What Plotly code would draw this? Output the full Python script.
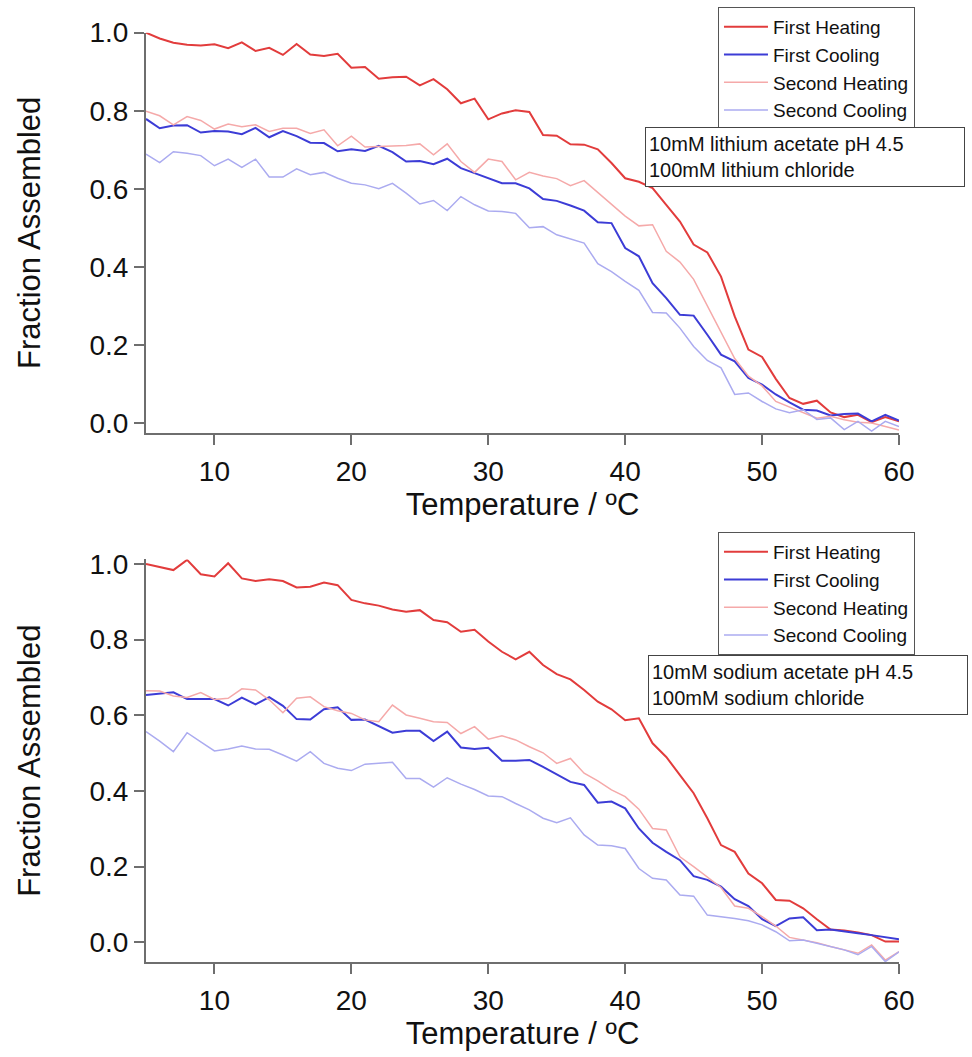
import plotly.graph_objects as go

# Temperature axis (ºC), one reading per degree
temperature = list(range(5, 61))

# 10 mM lithium acetate pH 4.5 / 100 mM lithium chloride
li_first_heating = [1.000, 0.985, 0.974, 0.969, 0.967, 0.970, 0.960, 0.975, 0.953, 0.961,
                    0.943, 0.971, 0.944, 0.940, 0.946, 0.910, 0.912, 0.882, 0.886, 0.887,
                    0.865, 0.881, 0.855, 0.819, 0.831, 0.778, 0.793, 0.801, 0.797, 0.738,
                    0.736, 0.714, 0.713, 0.701, 0.666, 0.627, 0.618, 0.602, 0.559, 0.516,
                    0.457, 0.437, 0.375, 0.273, 0.188, 0.169, 0.113, 0.064, 0.049, 0.057,
                    0.027, 0.015, 0.021, 0.002, 0.015, 0.004]
li_first_cooling = [0.779, 0.755, 0.762, 0.763, 0.744, 0.748, 0.747, 0.740, 0.756, 0.732,
                    0.748, 0.735, 0.718, 0.717, 0.696, 0.701, 0.697, 0.710, 0.694, 0.670,
                    0.671, 0.663, 0.677, 0.653, 0.640, 0.627, 0.614, 0.614, 0.601, 0.574,
                    0.569, 0.557, 0.544, 0.514, 0.512, 0.448, 0.427, 0.358, 0.320, 0.277,
                    0.275, 0.226, 0.175, 0.158, 0.115, 0.098, 0.073, 0.053, 0.034, 0.032,
                    0.019, 0.023, 0.024, 0.004, 0.021, 0.006]
li_second_heating = [0.799, 0.787, 0.764, 0.785, 0.775, 0.753, 0.766, 0.759, 0.764, 0.747,
                     0.755, 0.755, 0.742, 0.751, 0.710, 0.735, 0.707, 0.708, 0.709, 0.711,
                     0.715, 0.687, 0.715, 0.670, 0.642, 0.676, 0.670, 0.623, 0.642, 0.633,
                     0.626, 0.608, 0.621, 0.590, 0.560, 0.530, 0.505, 0.508, 0.440, 0.412,
                     0.368, 0.300, 0.230, 0.165, 0.120, 0.095, 0.055, 0.040, 0.026, 0.012,
                     0.017, 0.008, 0.002, 0.000, -0.009, -0.018]
li_second_cooling = [0.689, 0.667, 0.695, 0.691, 0.685, 0.659, 0.676, 0.655, 0.676, 0.630,
                     0.630, 0.651, 0.636, 0.642, 0.627, 0.614, 0.610, 0.600, 0.614, 0.589,
                     0.561, 0.570, 0.544, 0.580, 0.559, 0.543, 0.542, 0.537, 0.500, 0.503,
                     0.482, 0.471, 0.461, 0.408, 0.388, 0.363, 0.340, 0.283, 0.282, 0.243,
                     0.196, 0.160, 0.141, 0.073, 0.077, 0.055, 0.036, 0.026, 0.034, 0.009,
                     0.013, -0.017, 0.004, -0.021, 0.004, -0.009]

# 10 mM sodium acetate pH 4.5 / 100 mM sodium chloride
na_first_heating = [1.000, 0.991, 0.984, 1.011, 0.973, 0.967, 1.002, 0.962, 0.955, 0.960,
                    0.955, 0.938, 0.940, 0.951, 0.944, 0.905, 0.896, 0.890, 0.880, 0.874,
                    0.878, 0.852, 0.846, 0.821, 0.826, 0.795, 0.768, 0.748, 0.768, 0.733,
                    0.709, 0.695, 0.667, 0.636, 0.616, 0.587, 0.592, 0.526, 0.490, 0.442,
                    0.394, 0.328, 0.257, 0.239, 0.182, 0.156, 0.112, 0.110, 0.090, 0.061,
                    0.034, 0.031, 0.026, 0.019, 0.002, 0.002]
na_first_cooling = [0.654, 0.658, 0.661, 0.643, 0.643, 0.643, 0.626, 0.647, 0.629, 0.648,
                    0.625, 0.590, 0.589, 0.616, 0.621, 0.588, 0.589, 0.572, 0.554, 0.559,
                    0.559, 0.532, 0.557, 0.515, 0.511, 0.514, 0.480, 0.480, 0.482, 0.464,
                    0.445, 0.424, 0.416, 0.369, 0.372, 0.354, 0.301, 0.263, 0.239, 0.217,
                    0.175, 0.165, 0.147, 0.114, 0.096, 0.061, 0.043, 0.063, 0.066, 0.032,
                    0.034, 0.030, 0.024, 0.019, 0.013, 0.008]
na_second_heating = [0.665, 0.664, 0.651, 0.647, 0.660, 0.642, 0.645, 0.670, 0.667, 0.641,
                     0.607, 0.645, 0.649, 0.623, 0.612, 0.605, 0.588, 0.583, 0.627, 0.601,
                     0.592, 0.583, 0.581, 0.552, 0.570, 0.537, 0.546, 0.535, 0.517, 0.501,
                     0.473, 0.486, 0.447, 0.427, 0.403, 0.385, 0.352, 0.301, 0.297, 0.226,
                     0.200, 0.173, 0.145, 0.096, 0.090, 0.068, 0.043, 0.013, 0.006, -0.001,
                     -0.011, -0.019, -0.029, -0.007, -0.047, -0.025]
na_second_cooling = [0.557, 0.532, 0.504, 0.554, 0.530, 0.506, 0.511, 0.519, 0.511, 0.510,
                     0.495, 0.479, 0.504, 0.473, 0.460, 0.454, 0.471, 0.473, 0.476, 0.433,
                     0.433, 0.410, 0.435, 0.418, 0.404, 0.387, 0.385, 0.367, 0.350, 0.328,
                     0.316, 0.329, 0.284, 0.257, 0.255, 0.248, 0.195, 0.169, 0.165, 0.125,
                     0.122, 0.072, 0.068, 0.063, 0.057, 0.046, 0.028, 0.004, 0.006, -0.003,
                     -0.011, -0.020, -0.033, -0.011, -0.051, -0.025]

series_names = ["First Heating", "First Cooling", "Second Heating", "Second Cooling"]
series_colors = ["#e23c3c", "#3c3cd6", "#f5a9a9", "#ababf0"]
series_widths = [2, 2, 1.5, 1.5]

buffer_labels = ["10mM lithium acetate pH 4.5<br>100mM lithium chloride",
                 "10mM sodium acetate pH 4.5<br>100mM sodium chloride"]

x_ticks = [10, 20, 30, 40, 50, 60]
y_ticks = [0.0, 0.2, 0.4, 0.6, 0.8, 1.0]

FONT = "Liberation Sans, Arial, Helvetica, sans-serif"
AXIS_GREY = "#6e6e6e"

fig = go.Figure()

panels = [
    ("x", "y", "legend", [li_first_heating, li_first_cooling, li_second_heating, li_second_cooling]),
    ("x2", "y2", "legend2", [na_first_heating, na_first_cooling, na_second_heating, na_second_cooling]),
]
for xa, ya, leg, data in panels:
    for name, color, width, values in zip(series_names, series_colors, series_widths, data):
        fig.add_trace(go.Scatter(
            x=temperature, y=values, mode="lines", name=name,
            line=dict(color=color, width=width),
            xaxis=xa, yaxis=ya, legend=leg,
        ))

x_common = dict(
    range=[5, 60], tickvals=x_ticks, ticks="outside", ticklen=10, tickwidth=1.5,
    tickcolor=AXIS_GREY, showline=True, linecolor=AXIS_GREY, linewidth=2,
    showgrid=False, zeroline=False, automargin=False,
    tickfont=dict(family=FONT, size=28, color="#111"), ticklabelstandoff=2,
    title=dict(text="Temperature / ºC", font=dict(family=FONT, size=31, color="#111"), standoff=4),
)
y_common = dict(
    tickvals=y_ticks, tickformat=".1f", ticks="outside", ticklen=10, tickwidth=1.5,
    tickcolor=AXIS_GREY, showline=True, linecolor=AXIS_GREY, linewidth=2,
    showgrid=False, zeroline=False, automargin=False,
    tickfont=dict(family=FONT, size=28, color="#111"),
    title=dict(text="Fraction Assembled", font=dict(family=FONT, size=31, color="#111"), standoff=40),
)

legend_common = dict(
    font=dict(family=FONT, size=19, color="#111"),
    bgcolor="white", bordercolor="#555", borderwidth=1,
    xanchor="left", yanchor="top", tracegroupgap=0, itemwidth=44,
)

fig.update_layout(
    width=972, height=1057,
    margin=dict(l=146, r=73, t=0, b=0),
    paper_bgcolor="white", plot_bgcolor="white",
    xaxis=dict(domain=[0, 1], anchor="y", **x_common),
    yaxis=dict(domain=[0.5904, 0.9691], range=[-0.0256, 1.0], anchor="x", **y_common),
    xaxis2=dict(domain=[0, 1], anchor="y2", **x_common),
    yaxis2=dict(domain=[0.0899, 0.4707], range=[-0.052, 1.012], anchor="x2", **y_common),
    legend=dict(x=0.7596, y=0.9934, **legend_common),
    legend2=dict(x=0.7596, y=0.4967, **legend_common),
    showlegend=True,
)

for text, x0, y0 in zip(buffer_labels, [0.6627, 0.6667], [0.8798, 0.3803]):
    fig.add_annotation(
        text=text, xref="paper", yref="paper", x=x0, y=y0,
        xanchor="left", yanchor="top", align="left", showarrow=False,
        width=312, height=52, borderpad=3, bordercolor="#444", borderwidth=1,
        bgcolor="white", font=dict(family=FONT, size=20, color="#111"),
    )

fig.write_html("out.html")
